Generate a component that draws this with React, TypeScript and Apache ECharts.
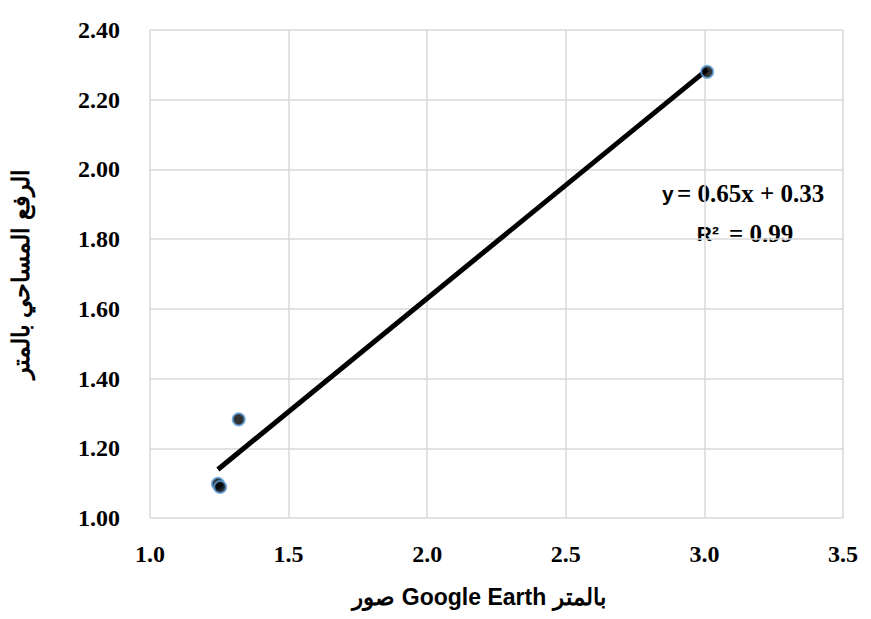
import React, { useEffect, useRef } from "react";
import * as echarts from "echarts";

const xValues = [1.245, 1.253, 1.32, 3.01];
const yValues = [1.098, 1.089, 1.283, 2.28];
const trendSlope = 0.65;
const trendIntercept = 0.33;
const xTitle = "صور Google Earth بالمتر";
const yTitle = "الرفع المساحي بالمتر";

export default function App() {
  const ref = useRef<HTMLDivElement>(null);
  useEffect(() => {
    if (!ref.current) return;
    const chart = echarts.init(ref.current, null, { renderer: "svg" });
    const points = xValues.map((x, i) => [x, yValues[i]]);
    const xmin = Math.min(...xValues);
    const xmax = Math.max(...xValues);
    const trend = [
      [xmin, trendSlope * xmin + trendIntercept],
      [xmax, trendSlope * xmax + trendIntercept],
    ];
    const serif = "'Times New Roman', 'Liberation Serif', serif";
    const sans = "Arial, 'Liberation Sans', sans-serif";
    chart.setOption({
      animation: false,
      backgroundColor: "#ffffff",
      grid: { left: 150, right: 28, top: 30, bottom: 101 },
      xAxis: {
        type: "value",
        min: 1.0,
        max: 3.5,
        interval: 0.5,
        axisLine: { show: false },
        axisTick: { show: false },
        splitLine: { show: true, lineStyle: { color: "#d9d9d9", width: 1.5 } },
        axisLabel: {
          formatter: (v: number) => v.toFixed(1),
          fontFamily: serif,
          fontWeight: "bold",
          fontSize: 24,
          color: "#000",
          margin: 24,
        },
        name: xTitle,
        nameLocation: "middle",
        nameGap: 67,
        nameTextStyle: {
          fontFamily: sans,
          fontWeight: "bold",
          fontSize: 23,
          color: "#000",
          padding: [0, 35, 0, 0],
        },
      },
      yAxis: {
        type: "value",
        min: 1.0,
        max: 2.4,
        interval: 0.2,
        axisLine: { show: false },
        axisTick: { show: false },
        splitLine: { show: true, lineStyle: { color: "#d9d9d9", width: 1.5 } },
        axisLabel: {
          formatter: (v: number) => v.toFixed(2),
          fontFamily: serif,
          fontWeight: "bold",
          fontSize: 24,
          color: "#000",
          margin: 30,
        },
        name: yTitle,
        nameLocation: "middle",
        nameGap: 118,
        nameRotate: 90,
        nameTextStyle: {
          fontFamily: sans,
          fontWeight: "bold",
          fontSize: 24,
          color: "#000",
        },
      },
      series: [
        {
          type: "line",
          data: trend,
          showSymbol: false,
          symbol: "none",
          lineStyle: { color: "#000", width: 5 },
          z: 2,
        },
        {
          type: "scatter",
          data: points,
          symbolSize: 12,
          itemStyle: { color: "#000", borderColor: "#5B9BD5", borderWidth: 2 },
          z: 3,
        },
      ],
      graphic: [
        {
          type: "line",
          shape: { x1: 7, y1: 5.5, x2: 871, y2: 5.5 },
          style: { stroke: "#d9d9d9", lineWidth: 1.5 },
        },
        {
          type: "line",
          shape: { x1: 7, y1: 5.5, x2: 7, y2: 619 },
          style: { stroke: "#d9d9d9", lineWidth: 1.5 },
        },
        {
          type: "text",
          x: 743,
          y: 193,
          style: {
            text: "{s|y} {t|= 0.65x + 0.33}",
            align: "center",
            verticalAlign: "middle",
            rich: {
              s: { fontFamily: sans, fontWeight: "bold", fontSize: 21, fill: "#000" },
              t: { fontFamily: serif, fontWeight: "bold", fontSize: 25, fill: "#000" },
            },
          },
        },
        {
          type: "text",
          x: 745,
          y: 233,
          style: {
            text: "{s|R²}   {t|= 0.99}",
            align: "center",
            verticalAlign: "middle",
            rich: {
              s: { fontFamily: sans, fontWeight: "bold", fontSize: 21, fill: "#000" },
              t: { fontFamily: serif, fontWeight: "bold", fontSize: 25, fill: "#000" },
            },
          },
        },
      ],
    });
    return () => chart.dispose();
  }, []);
  return <div ref={ref} style={{ width: 871, height: 619, margin: -8 }} />;
}
